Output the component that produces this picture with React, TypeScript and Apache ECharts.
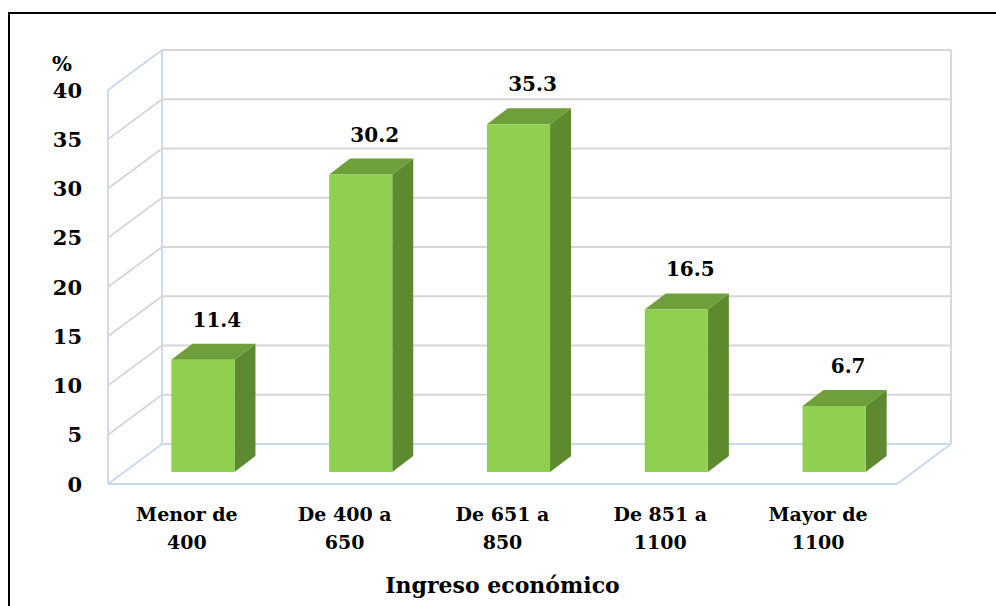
import React, { useEffect, useRef } from 'react';
import * as echarts from 'echarts';

// Income brackets and their share of respondents (%)
const categories = ['Menor de\n400', 'De 400 a\n650', 'De 651 a\n850', 'De 851 a\n1100', 'Mayor de\n1100'];
const shares = [11.4, 30.2, 35.3, 16.5, 6.7];
const yTicks = [0, 5, 10, 15, 20, 25, 30, 35, 40];
const axisTitle = 'Ingreso económico';
const unitLabel = '%';

const FONT = '"DejaVu Serif", "Liberation Serif", serif';
const GRID_GRAY = '#d6d6d6';
const EDGE_BLUE = '#c6d9f0';
// depth of the box (back wall offset from the front plane)
const WALL_DX = 54;
const WALL_DY = -40;
// bars sit a little behind the front plane and have their own depth
const BAR_OFF_X = 16;
const BAR_OFF_Y = -12;
const BAR_DX = 21;
const BAR_DY = -16;
const BAR_FRACTION = 0.4;

const line = (x1: number, y1: number, x2: number, y2: number, stroke: string) => ({
  type: 'line',
  shape: { x1, y1, x2, y2 },
  style: { stroke, lineWidth: 1.8 },
});

const renderWalls = (params: any, api: any) => {
  const cs = params.coordSys;
  const v = api.value(1);
  const y = api.coord([0, v])[1];
  const left = cs.x;
  const right = cs.x + cs.width;
  const children: any[] = [];
  if (v === 0) {
    // floor outline and vertical edges
    const top = cs.y;
    children.push(line(left, y, right, y, EDGE_BLUE));
    children.push(line(left, y, left + WALL_DX, y + WALL_DY, EDGE_BLUE));
    children.push(line(right, y, right + WALL_DX, y + WALL_DY, EDGE_BLUE));
    children.push(line(left + WALL_DX, y + WALL_DY, right + WALL_DX, y + WALL_DY, EDGE_BLUE));
    children.push(line(left, y, left, top, EDGE_BLUE));
    children.push(line(left + WALL_DX, y + WALL_DY, left + WALL_DX, top + WALL_DY, EDGE_BLUE));
    children.push(line(right + WALL_DX, y + WALL_DY, right + WALL_DX, top + WALL_DY, EDGE_BLUE));
  } else {
    const isTop = v === yTicks[yTicks.length - 1];
    children.push(line(left, y, left + WALL_DX, y + WALL_DY, isTop ? EDGE_BLUE : GRID_GRAY));
    children.push(line(left + WALL_DX, y + WALL_DY, right + WALL_DX, y + WALL_DY, GRID_GRAY));
  }
  return { type: 'group', children };
};

const renderBar = (params: any, api: any) => {
  const idx = api.value(0);
  const val = api.value(1);
  const base = api.coord([idx, 0]);
  const top = api.coord([idx, val]);
  const w = api.size([1, 0])[0] * BAR_FRACTION;
  const x0 = base[0] - w / 2 + BAR_OFF_X;
  const x1 = x0 + w;
  const yb = base[1] + BAR_OFF_Y;
  const yt = top[1] + BAR_OFF_Y;
  return {
    type: 'group',
    children: [
      {
        type: 'polygon',
        shape: { points: [[x1, yt], [x1 + BAR_DX, yt + BAR_DY], [x1 + BAR_DX, yb + BAR_DY], [x1, yb]] },
        style: { fill: '#5e8a2f' },
      },
      {
        type: 'polygon',
        shape: { points: [[x0, yt], [x0 + BAR_DX, yt + BAR_DY], [x1 + BAR_DX, yt + BAR_DY], [x1, yt]] },
        style: { fill: '#6f9f3b' },
      },
      {
        type: 'rect',
        shape: { x: x0, y: yt, width: w, height: yb - yt },
        style: { fill: '#90d050' },
      },
      {
        type: 'text',
        x: (x0 + x1) / 2 + 14,
        y: yt - 40,
        style: {
          text: val.toFixed(1),
          align: 'center',
          verticalAlign: 'middle',
          fontFamily: FONT,
          fontWeight: 'bold',
          fontSize: 20,
          fill: '#000',
        },
      },
    ],
  };
};

export default function App() {
  const ref = useRef<HTMLDivElement>(null);

  useEffect(() => {
    if (!ref.current) return;
    const chart = echarts.init(ref.current, undefined, { renderer: 'svg' });
    chart.setOption({
      animation: false,
      backgroundColor: '#fff',
      grid: { left: 108, right: 99, top: 90, bottom: 122 },
      xAxis: {
        type: 'category',
        data: categories,
        axisLine: { show: false },
        axisTick: { show: false },
        axisLabel: {
          margin: 16,
          lineHeight: 28,
          fontFamily: FONT,
          fontWeight: 'bold',
          fontSize: 19,
          color: '#000',
        },
        name: axisTitle,
        nameLocation: 'middle',
        nameGap: 90,
        nameTextStyle: { fontFamily: FONT, fontWeight: 'bold', fontSize: 22, color: '#000' },
      },
      yAxis: {
        type: 'value',
        min: 0,
        max: 40,
        interval: 5,
        axisLine: { show: false },
        axisTick: { show: false },
        splitLine: { show: false },
        axisLabel: {
          margin: 26,
          fontFamily: FONT,
          fontWeight: 'bold',
          fontSize: 21,
          color: '#000',
        },
      },
      graphic: [
        {
          type: 'rect',
          shape: { x: 9, y: 13, width: 1000, height: 700 },
          style: { fill: 'none', stroke: '#000', lineWidth: 2 },
          silent: true,
        },
        {
          type: 'text',
          x: 62,
          y: 63,
          style: {
            text: unitLabel,
            align: 'center',
            verticalAlign: 'middle',
            fontFamily: FONT,
            fontWeight: 'bold',
            fontSize: 21,
            fill: '#000',
          },
        },
      ],
      series: [
        {
          type: 'custom',
          renderItem: renderWalls,
          data: yTicks.map((t) => [0, t]),
          encode: { x: 0, y: 1 },
          silent: true,
          z: 1,
        },
        {
          type: 'custom',
          renderItem: renderBar,
          data: shares.map((s, i) => [i, s]),
          encode: { x: 0, y: 1 },
          z: 2,
        },
      ],
    });
    return () => chart.dispose();
  }, []);

  return <div ref={ref} style={{ position: 'fixed', left: 0, top: 0, width: 996, height: 606 }} />;
}
